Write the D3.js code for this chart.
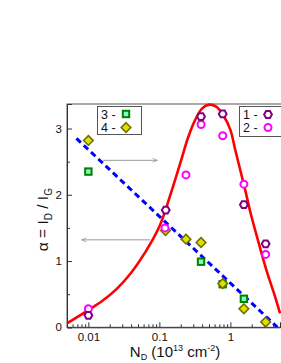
<!DOCTYPE html>
<html>
<head>
<meta charset="utf-8">
<script src="https://cdn.jsdelivr.net/npm/d3@7"></script>
<style>
  body { margin: 0; background: #fff; }
  svg { display: block; font-family: "Liberation Sans", Arial, sans-serif; }
</style>
</head>
<body>
<div id="chart"></div>
<script>
// fitted curve (red) and linear fit (blue)
const fitPeak = [
  [0.005, 0.06], [0.01, 0.26], [0.0158, 0.40], [0.0251, 0.58], [0.0398, 0.82],
  [0.0631, 1.13], [0.1, 1.52], [0.141, 1.98], [0.2, 2.5], [0.251, 2.85],
  [0.316, 3.12], [0.398, 3.3], [0.501, 3.36], [0.631, 3.33], [0.794, 3.2],
  [1.0, 2.98], [1.17, 2.68], [1.38, 2.37], [1.62, 2.07], [1.91, 1.74],
  [2.51, 1.27], [3.31, 0.82], [4.27, 0.46], [5.01, 0.21]
];
const fitLine = [[0.0068, 2.85], [4.6, 0.0]];

const series1 = [[0.01, 0.18], [0.123, 1.77], [0.386, 3.18], [0.78, 3.22], [1.55, 1.85], [3.14, 1.26]];
const series2 = [[0.01, 0.28], [0.12, 1.50], [0.237, 2.30], [0.386, 3.06], [0.78, 2.89], [1.55, 2.16], [3.14, 1.10]];
const series3 = [[0.01, 2.35], [0.386, 0.99], [0.78, 0.65], [1.55, 0.43]];
const series4 = [[0.01, 2.82], [0.122, 1.46], [0.237, 1.33], [0.386, 1.28], [0.78, 0.66], [1.55, 0.28], [3.14, 0.08]];

const xTicks = [0.01, 0.1, 1];
const xTickLabels = ['0.01', '0.1', '1'];
const yTicks = [0, 1, 2, 3];
const yMinor = [0.5, 1.5, 2.5];

const width = 281, height = 363;
const plot = { left: 67, top: 104, right: 280, bottom: 327.3 };

const svg = d3.select('#chart').append('svg')
  .attr('width', width)
  .attr('height', height);

const x = d3.scaleLog().domain([0.005, 5]).range([plot.left, plot.right]);
const y = d3.scaleLinear().domain([0, 3.37]).range([plot.bottom, plot.top]);

svg.append('clipPath').attr('id', 'clip')
  .append('rect')
  .attr('x', plot.left).attr('y', plot.top - 1)
  .attr('width', plot.right + 5 - plot.left).attr('height', plot.bottom - plot.top + 1);

// frame (right side runs off the picture, as in the original)
svg.append('rect')
  .attr('x', plot.left).attr('y', plot.top)
  .attr('width', plot.right + 5 - plot.left).attr('height', plot.bottom - plot.top)
  .attr('fill', 'none').attr('stroke', '#555').attr('stroke-width', 1);

// x axis (ticks inward)
const xMinor = [];
[0.001, 0.01, 0.1, 1].forEach(d => {
  for (let k = 2; k <= 9; k++) {
    const v = d * k;
    if (v >= 0.005 && v <= 5) xMinor.push(v);
  }
});
svg.append('g')
  .attr('transform', `translate(0,${plot.bottom})`)
  .call(d3.axisBottom(x).tickValues(xMinor).tickSize(-3).tickFormat(''))
  .call(g => g.select('.domain').remove())
  .call(g => g.selectAll('line').attr('stroke', '#333'));
svg.append('g')
  .attr('transform', `translate(0,${plot.bottom})`)
  .call(d3.axisBottom(x).tickValues(xTicks).tickSize(-5).tickPadding(6)
    .tickFormat((d, i) => xTickLabels[i]))
  .call(g => g.select('.domain').attr('stroke', '#333'))
  .call(g => g.selectAll('line').attr('stroke', '#333'))
  .call(g => g.selectAll('text').attr('font-size', 11.5).attr('fill', '#111')
    .attr('font-family', '"Liberation Sans", Arial, sans-serif'));

// y axis (ticks inward)
svg.append('g')
  .attr('transform', `translate(${plot.left},0)`)
  .call(d3.axisLeft(y).tickValues(yMinor).tickSize(-3).tickFormat(''))
  .call(g => g.select('.domain').remove())
  .call(g => g.selectAll('line').attr('stroke', '#333'));
svg.append('g')
  .attr('transform', `translate(${plot.left},0)`)
  .call(d3.axisLeft(y).tickValues(yTicks).tickSize(-5).tickPadding(5).tickFormat(d3.format('d')))
  .call(g => g.select('.domain').attr('stroke', '#333'))
  .call(g => g.selectAll('line').attr('stroke', '#333'))
  .call(g => g.selectAll('text').attr('font-size', 11.5).attr('fill', '#111')
    .attr('font-family', '"Liberation Sans", Arial, sans-serif'));

// axis titles
const xt = svg.append('text')
  .attr('x', 175)
  .attr('y', 357)
  .attr('text-anchor', 'middle')
  .attr('font-size', 15)
  .attr('fill', '#111');
xt.append('tspan').text('N');
xt.append('tspan').attr('font-size', 9).attr('dy', 3).text('D');
xt.append('tspan').attr('dy', -3).text(' (10');
xt.append('tspan').attr('font-size', 9).attr('dy', -6).text('13');
xt.append('tspan').attr('dy', 6).text(' cm');
xt.append('tspan').attr('font-size', 9).attr('dy', -6).text('-2');
xt.append('tspan').attr('dy', 6).text(')');

const yt = svg.append('text')
  .attr('transform', `translate(48,${(plot.top + plot.bottom) / 2 + 4}) rotate(-90)`)
  .attr('text-anchor', 'middle')
  .attr('font-size', 15.5)
  .attr('fill', '#111');
yt.append('tspan').text('\u03B1 = I');
yt.append('tspan').attr('font-size', 10).attr('dy', 4).text('D');
yt.append('tspan').attr('dy', -4).text(' / I');
yt.append('tspan').attr('font-size', 10).attr('dy', 4).text('G');

// arrows
const defs = svg.append('defs');
defs.append('marker')
  .attr('id', 'arrow')
  .attr('viewBox', '0 0 10 10')
  .attr('refX', 9).attr('refY', 5)
  .attr('markerWidth', 7).attr('markerHeight', 5)
  .attr('orient', 'auto')
  .append('path')
  .attr('d', 'M0,1L10,5L0,9')
  .attr('fill', 'none')
  .attr('stroke', '#999')
  .attr('stroke-width', 1.5);

svg.append('line')
  .attr('x1', x(0.0161)).attr('y1', y(2.52))
  .attr('x2', x(0.0927)).attr('y2', y(2.52))
  .attr('stroke', '#999').attr('stroke-width', 1)
  .attr('marker-end', 'url(#arrow)');
svg.append('line')
  .attr('x1', x(0.0738)).attr('y1', y(1.32))
  .attr('x2', x(0.0081)).attr('y2', y(1.32))
  .attr('stroke', '#999').attr('stroke-width', 1)
  .attr('marker-end', 'url(#arrow)');

// fit curves
const lines = svg.append('g').attr('clip-path', 'url(#clip)');

lines.append('path')
  .datum(fitPeak)
  .attr('d', d3.line().x(d => x(d[0])).y(d => y(d[1])).curve(d3.curveCatmullRom))
  .attr('fill', 'none')
  .attr('stroke', '#ff0000')
  .attr('stroke-width', 2.6);

lines.append('path')
  .datum(fitLine)
  .attr('d', d3.line().x(d => x(d[0])).y(d => y(d[1])))
  .attr('fill', 'none')
  .attr('stroke', '#0000ff')
  .attr('stroke-width', 3)
  .attr('stroke-dasharray', '6,4');

// marker shapes
const hexPath = r => {
  const pts = d3.range(6).map(i => {
    const a = Math.PI / 3 * i;
    return [r * Math.cos(a), r * Math.sin(a)];
  });
  return 'M' + pts.map(p => p.join(',')).join('L') + 'Z';
};
const drawHex = (g, cx, cy) => g.append('path')
  .attr('d', hexPath(3.9)).attr('transform', `translate(${cx},${cy})`)
  .attr('fill', '#fff').attr('stroke', '#800080').attr('stroke-width', 2);
const drawCircle = (g, cx, cy) => g.append('circle')
  .attr('cx', cx).attr('cy', cy).attr('r', 3.5)
  .attr('fill', '#fff').attr('stroke', '#ff00ff').attr('stroke-width', 2);
const drawSquare = (g, cx, cy) => g.append('rect')
  .attr('x', cx - 3.2).attr('y', cy - 3.2).attr('width', 6.4).attr('height', 6.4)
  .attr('fill', '#80ffc0').attr('stroke', '#008000').attr('stroke-width', 2);
const drawDiamond = (g, cx, cy) => g.append('path')
  .attr('d', 'M0,-4.8L4.8,0L0,4.8L-4.8,0Z').attr('transform', `translate(${cx},${cy})`)
  .attr('fill', '#e0e000').attr('stroke', '#707000').attr('stroke-width', 1.6);

const marks = svg.append('g');
series3.forEach(d => drawSquare(marks, x(d[0]), y(d[1])));
series4.forEach(d => drawDiamond(marks, x(d[0]), y(d[1])));
series2.forEach(d => drawCircle(marks, x(d[0]), y(d[1])));
series1.forEach(d => drawHex(marks, x(d[0]), y(d[1])));

// legends
const legendLeft = svg.append('g');
legendLeft.append('rect')
  .attr('x', 97.5).attr('y', 106.5).attr('width', 44).attr('height', 28)
  .attr('fill', '#fff').attr('stroke', '#555').attr('stroke-width', 1);
[['3', drawSquare, 114], ['4', drawDiamond, 127.5]].forEach(([lab, fn, cy]) => {
  legendLeft.append('text').attr('x', 101).attr('y', cy + 4.5)
    .attr('font-size', 12.5).attr('fill', '#111').text(lab + ' -');
  fn(legendLeft, 126, cy);
});

const legendRight = svg.append('g');
legendRight.append('rect')
  .attr('x', 239.5).attr('y', 106.5).attr('width', 50).attr('height', 30)
  .attr('fill', '#fff').attr('stroke', '#555').attr('stroke-width', 1);
[['1', drawHex, 114.5], ['2', drawCircle, 127.5]].forEach(([lab, fn, cy]) => {
  legendRight.append('text').attr('x', 243).attr('y', cy + 4.5)
    .attr('font-size', 12.5).attr('fill', '#111').text(lab + ' -');
  fn(legendRight, 268, cy);
});
</script>
</body>
</html>
